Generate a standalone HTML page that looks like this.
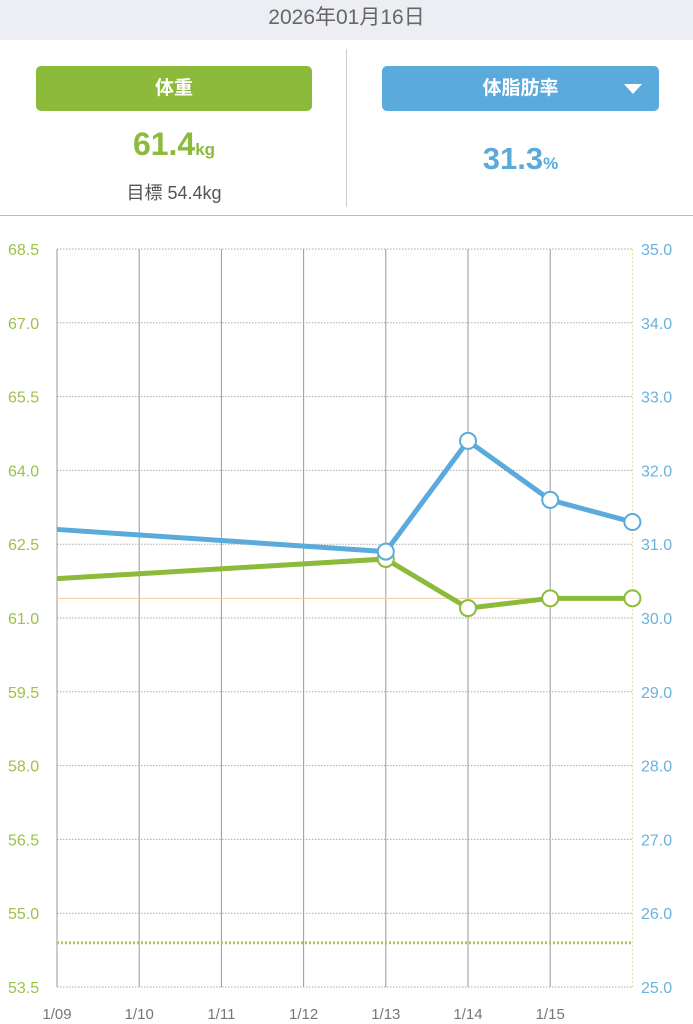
<!DOCTYPE html>
<html><head><meta charset="utf-8"><style>
body{margin:0;width:693px;height:1024px;background:#fff;font-family:"Liberation Sans","Noto Sans CJK JP",sans-serif;position:relative;overflow:hidden}
.abs{position:absolute}
</style></head><body>
<div class="abs" style="left:0;top:0;width:693px;height:40px;background:#eceef3;color:#666;font-size:21px;text-align:center;line-height:36px">2026年01月16日</div>
<div class="abs" style="left:36px;top:66px;width:276px;height:45px;background:#8cba3a;border-radius:5px;color:#fff;font-size:19px;font-weight:bold;text-align:center;line-height:45px">体重</div>
<div class="abs" style="left:36px;top:126px;width:276px;text-align:center;color:#8cba3a;font-size:32px;font-weight:bold">61.4<span style="font-size:17px">kg</span></div>
<div class="abs" style="left:36px;top:179px;width:276px;text-align:center;color:#555;font-size:18px">目標 54.4kg</div>
<div class="abs" style="left:346px;top:49px;width:1px;height:158px;background:#ccc"></div>
<div class="abs" style="left:382px;top:66px;width:277px;height:45px;background:#5aabdb;border-radius:5px;color:#fff;font-size:19px;font-weight:bold;text-align:center;line-height:45px">体脂肪率<span class="abs" style="right:17px;top:18px;width:0;height:0;border-left:9px solid transparent;border-right:9px solid transparent;border-top:10px solid #fff"></span></div>
<div class="abs" style="left:382px;top:141px;width:277px;text-align:center;color:#5aabdb;font-size:31px;font-weight:bold">31.3<span style="font-size:17px">%</span></div>
<div class="abs" style="left:0;top:215px;width:693px;height:1px;background:#bbb"></div>
<svg class="abs" style="left:0;top:0" width="693" height="1024" id="chart"></svg>
<script>
const dates=["1/09","1/10","1/11","1/12","1/13","1/14","1/15","1/16"];
const leftTicks=[68.5,67.0,65.5,64.0,62.5,61.0,59.5,58.0,56.5,55.0,53.5];
const rightTicks=[35.0,34.0,33.0,32.0,31.0,30.0,29.0,28.0,27.0,26.0,25.0];
const weight=[61.8,null,null,null,62.2,61.2,61.4,61.4];
const fat=[31.2,null,null,null,30.9,32.4,31.6,31.3];
const weightMarkers=[false,false,false,false,true,true,true,true];
const target=54.4;
const current=61.4;
const NS="http://www.w3.org/2000/svg";
const svg=document.getElementById('chart');
const x0=57,dx=82.2,yTop=249,yBot=987;
const X=i=>x0+i*dx;
const YL=v=>yTop+(68.5-v)/15*(yBot-yTop);
const YR=v=>yTop+(35-v)/10*(yBot-yTop);
function mk(t,a){const e=document.createElementNS(NS,t);for(const k in a)e.setAttribute(k,a[k]);svg.appendChild(e);return e;}
leftTicks.forEach((v,i)=>{
 const l=mk('line',{x1:x0,x2:X(7),y1:YL(v),y2:YL(v),stroke:'#aaa','stroke-width':1,'stroke-dasharray':'1.5,1.5'});
 
 
 const t=mk('text',{x:8,y:YL(v)+6,fill:'#9dc14a','font-size':16});t.textContent=v.toFixed(1);
 
 
});
rightTicks.forEach(v=>{
 const t=mk('text',{x:641,y:YR(v)+6,fill:'#6ab2dc','font-size':16});t.textContent=v.toFixed(1);
 
 
});
dates.forEach((d,i)=>{
 if(i<7){const l=mk('line',{x1:X(i),x2:X(i),y1:yTop,y2:yBot,stroke:'#999','stroke-width':1});
 
 
 const t=mk('text',{x:X(i),y:1019,fill:'#777','font-size':15,'text-anchor':'middle'});t.textContent=d;
 
 }
});
const ra=mk('line',{x1:X(7),x2:X(7),y1:yTop,y2:yBot,stroke:'#e8dc9a','stroke-width':1,'stroke-dasharray':'2,2'});


const tl=mk('line',{x1:x0,x2:X(7),y1:YL(target),y2:YL(target),stroke:'#a8cc5a','stroke-width':3,'stroke-dasharray':'2,2'});


const cl=mk('line',{x1:x0,x2:X(7),y1:YL(current),y2:YL(current),stroke:'#f3c9a0','stroke-width':1});


function series(arr,Y,col,name,markers){
 const pts=arr.map((v,i)=>v==null?null:[X(i),Y(v)]).filter(p=>p);
 const p=mk('polyline',{points:pts.map(q=>q.join(',')).join(' '),fill:'none',stroke:col,'stroke-width':5,'stroke-linejoin':'round'});
 
 
 arr.forEach((v,i)=>{if(v==null||!markers[i])return;
  const c=mk('circle',{cx:X(i),cy:Y(v),r:8,fill:'#fff',stroke:col,'stroke-width':2});
  
  
 });
}
series(weight,YL,'#8cba3a','weight',weightMarkers);
series(fat,YR,'#5aabdb','body-fat',weightMarkers);
</script>
</body></html>
